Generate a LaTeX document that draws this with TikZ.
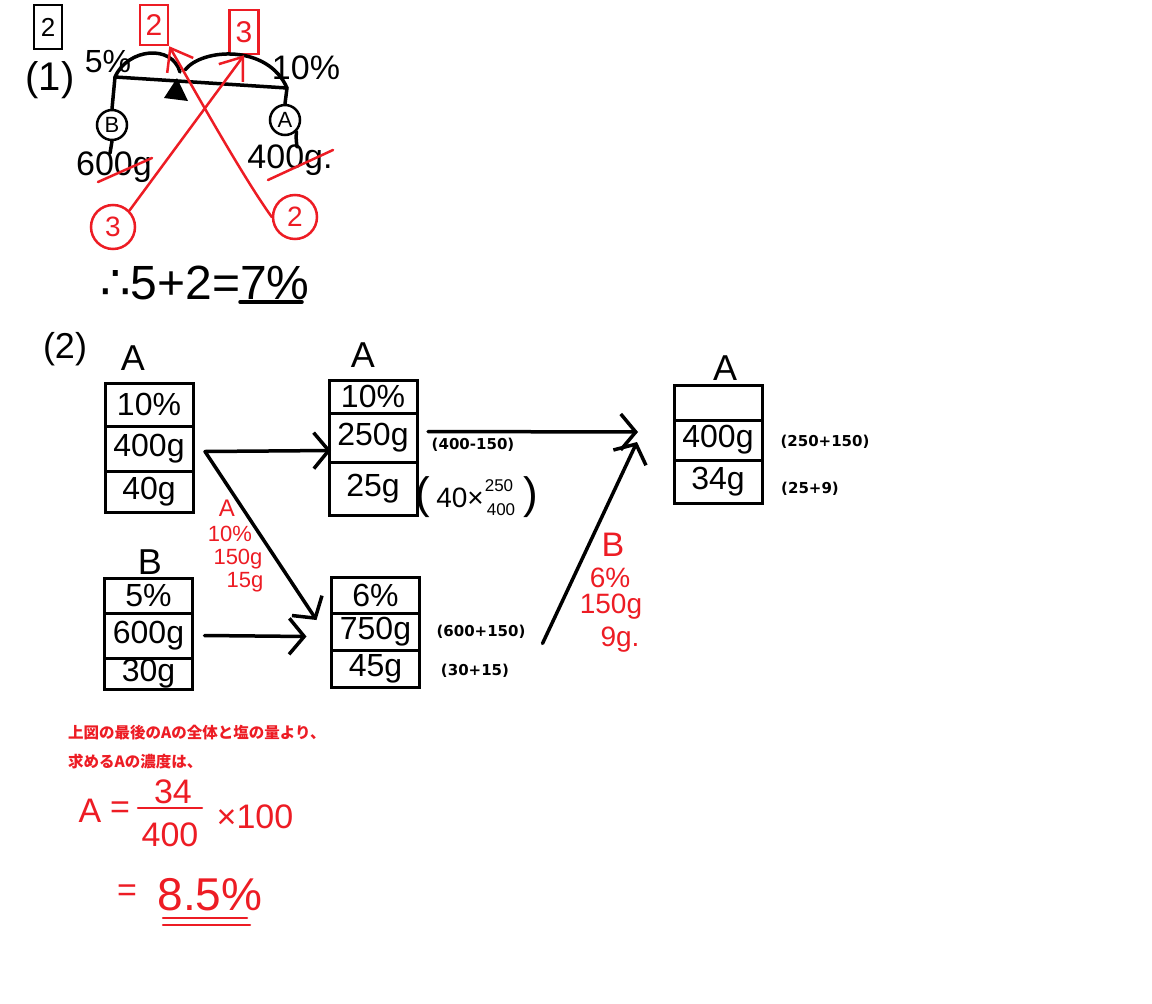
\documentclass[tikz,border=0pt]{standalone}
\usepackage{fontspec}
\setmainfont{DejaVu Sans}
\newfontfamily\hand{Liberation Sans}
\newfontfamily\symfont{DejaVu Sans}
\newfontfamily\jpfont{Noto Sans CJK JP}
\usetikzlibrary{calc,positioning,arrows.meta}
\definecolor{penred}{RGB}{237,28,36}

\begin{document}
\begin{tikzpicture}[x=1pt, y=-1pt,
    > = {Straight Barb[length=15pt,width=36pt]},
    hw/.style={inner sep=0pt, font=\hand\fontsize{#1}{#1}\selectfont},
    hw/.default=32,
    redhw/.style={hw=#1, text=penred},
    redhw/.default=26,
    cell/.style={draw, line width=3pt, minimum width=88, inner sep=0pt, outer sep=0pt,
        font=\hand\fontsize{32}{32}\selectfont},
    pen/.style={line width=3.5pt, line cap=round, line join=round},
    redpen/.style={line width=2.5pt, line cap=round, line join=round, draw=penred},
    redarrow/.style={-{Straight Barb[length=20pt,width=30pt]}},
    note/.style={inner sep=0pt, font=\bfseries\fontsize{15}{15}\selectfont},
    jp/.style={inner sep=0pt, anchor=west, text=penred, font=\jpfont\bfseries\fontsize{15.5}{15.5}\selectfont}]
    \fill[white] (0,0) rectangle (1152,1004);

    % (1)
    \node[hw=26, draw, line width=2.5pt, minimum width=28, minimum height=44] (q2) at (48,27) {2};
    \node[hw=40] (p1) at (50,80) {(1)};
    \node[hw=32] (c5) at (108,62) {5\%};
    \node[hw=34] (c10) at (306,68) {10\%};
    \node[hw=22, draw, circle, line width=2.5pt, minimum size=30] (bc) at (112,125) {B};
    \node[hw=22, draw, circle, line width=2.5pt, minimum size=30] (ac) at (285,120) {A};
    \node[hw=34] (w600) at (114,167) {600g};
    \node[hw=34] (w400) at (290,160) {400g.};
    \node[redhw=28, draw=penred, circle, line width=2.5pt, minimum size=44] (r3c) at (113,227) {3};
    \node[redhw=28, draw=penred, circle, line width=2.5pt, minimum size=44] (r2c) at (295,217) {2};
    \node[redhw=30, draw=penred, line width=2.5pt, minimum width=28, minimum height=40] (r2b) at (154,25) {2};
    \node[redhw=30, draw=penred, line width=2.5pt, minimum width=29, minimum height=44] (r3b) at (244,32) {3};
    \node[hw=48] (ans) at (205,283) {{\symfont ∴}5+2=7\%};

    \coordinate (beamL) at (115,77);
    \coordinate (beamR) at (287,88);
    \draw[pen] (bc.north) -- (beamL) -- (beamR) -- (ac.north);
    \draw[pen] (beamL) .. controls (128,48) and (172,44) .. (180,72);
    \draw[pen] (185,70) .. controls (202,48) and (268,44) .. (beamR);
    \fill (177,78) -- (164,98) -- (188,101) -- cycle;
    \draw[pen] (bc.south) -- ++(-2,12);
    \draw[pen] (ac.south east) .. controls (296,138) .. (297,147);
    \draw[pen] (240,302) -- (302,302);

    \draw[redpen] (98,182) -- (152,158);
    \draw[redpen] (268,180) -- (333,150);
    \draw[redpen, redarrow] (r3c.north east) -- (r3b.south);
    \draw[redpen, redarrow] (r2c.west) .. controls (245,180) and (200,100) .. (r2b.south east);

    % (2)
    \node[hw=36] (p2) at (65,349) {(2)};
    \node[hw=36] (la1) at (133,358) {A};
    \node[hw=36] (la2) at (363,355) {A};
    \node[hw=36] (lb) at (150,562) {B};
    \node[hw=36] (la3) at (725,368) {A};

    \node[cell, minimum height=43] (a1p) at (149,404.5) {10\%};
    \node[cell, minimum height=45, below=0pt of a1p] (a1w) {400g};
    \node[cell, minimum height=41, below=0pt of a1w] (a1s) {40g};

    \node[cell, minimum height=35] (bp) at (148.5,595.5) {5\%};
    \node[cell, minimum height=45, below=0pt of bp] (bw) {600g};
    \node[cell, minimum height=31, below=0pt of bw] (bs) {30g};

    \node[cell, minimum height=33] (a2p) at (373,396.5) {10\%};
    \node[cell, minimum height=49, below=0pt of a2p] (a2w) {250g};
    \node[cell, minimum height=53, below=0pt of a2w] (a2s) {25g};

    \node[cell, minimum height=36] (mp) at (375.5,595) {6\%};
    \node[cell, minimum height=37, below=0pt of mp] (mw) {750g};
    \node[cell, minimum height=37, below=0pt of mw] (ms) {45g};

    \node[cell, minimum height=35] (a3p) at (718,402.5) {};
    \node[cell, minimum height=40, below=0pt of a3p] (a3w) {400g};
    \node[cell, minimum height=43, below=0pt of a3w] (a3s) {34g};

    \draw[pen, ->] ($(a1w.east)+(12,3)$) -- ($(a2w.west)+(2,13)$);
    \draw[pen, ->] ($(a1w.east)+(12,3)$) -- ($(mp.west)+(-15,25)$);
    \draw[pen, ->] ($(bw.east)+(12,0)$) -- ($(mw.west)+(-25,5)$);
    \draw[pen, ->] ($(a2w.east)+(11,-6)$) -- ($(a3w.west)+(-36,-8)$);
    \draw[pen, ->] ($(mw.east)+(123,12)$) -- ($(a3w.west)+(-37,2)$);

    \node[note] (n1) at (473,445) {(400-150)};
    \node[note] (n2) at (481,632) {(600+150)};
    \node[note] (n3) at (475,671) {(30+15)};
    \node[note] (n4) at (825,442) {(250+150)};
    \node[note] (n5) at (810,489) {(25+9)};
    \node[hw=44] (fl) at (423,497) {(};
    \node[hw=28] (fx) at (460,498) {40×};
    \node[hw=17] (fnum) at (499,486) {250};
    \node[hw=17] (fden) at (501,510) {400};
    \node[hw=44] (fr) at (531,497) {)};

    \node[redhw=24] (ra) at (227,508) {A};
    \node[redhw=22] (rap) at (230,534) {10\%};
    \node[redhw=22] (raw) at (238,559) {150g};
    \node[redhw=22] (ras) at (245,582) {15g};

    \node[redhw=34] (rb) at (613,545) {B};
    \node[redhw=28] (rbp) at (610,578) {6\%};
    \node[redhw=28] (rbw) at (611,607) {150g};
    \node[redhw=28] (rbs) at (620,640) {9g.};

    % answer
    \node[jp] (jp1) at (68,733) {上図の最後のAの全体と塩の量より、};
    \node[jp] (jp2) at (68,762) {求めるAの濃度は、};

    \node[redhw=34] (ea) at (90,811) {A};
    \node[redhw=34] (eeq) at (120,810) {=};
    \node[redhw=34] (enum) at (173,792) {34};
    \node[redhw=34] (eden) at (170,835) {400};
    \draw[redpen] (138,808) -- (202,808);
    \node[redhw=34] (etimes) at (255,817) {×100};
    \node[redhw=34] (eeq2) at (127,893) {=};
    \node[redhw=46] (eres) at (210,895) {8.5\%};
    \draw[redpen] (163,918) -- (247,918);
    \draw[redpen] (163,925) -- (250,925);
\end{tikzpicture}
\end{document}
